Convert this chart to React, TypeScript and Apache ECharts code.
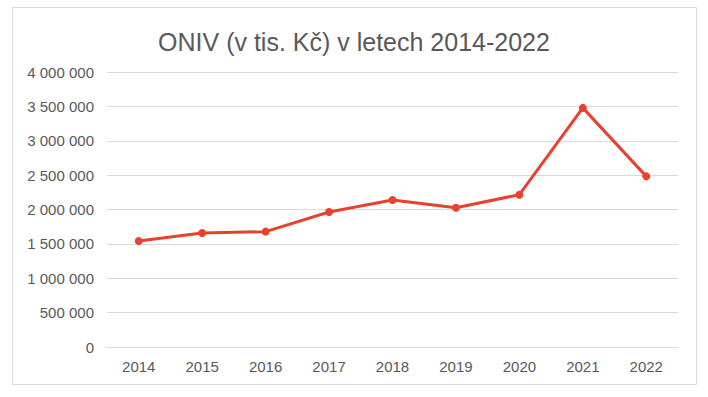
import React, { useEffect, useRef } from "react";
import * as echarts from "echarts";

const years = ["2014", "2015", "2016", "2017", "2018", "2019", "2020", "2021", "2022"];
const oniv = [1543000, 1659000, 1678000, 1964000, 2138000, 2026000, 2215000, 3478000, 2482000];
const titleText = "ONIV (v tis. Kč) v letech 2014-2022";

const fmt = (v: number) => String(Math.round(v)).replace(/\B(?=(\d{3})+(?!\d))/g, " ");

export default function App() {
  const ref = useRef<HTMLDivElement>(null);
  useEffect(() => {
    if (!ref.current) return;
    const chart = echarts.init(ref.current, undefined, { renderer: "svg" });
    const font = "'Liberation Sans', Arial, sans-serif";
    chart.setOption({
      animation: false,
      backgroundColor: "#ffffff",
      title: {
        text: titleText,
        left: "center",
        top: 24,
        textStyle: { fontFamily: font, fontSize: 25, fontWeight: "normal", color: "#595959" },
      },
      graphic: [
        {
          type: "rect",
          shape: { x: 12.5, y: 7.5, width: 684, height: 377 },
          style: { fill: "none", stroke: "#d9d9d9", lineWidth: 1 },
          silent: true,
        },
      ],
      grid: { left: 107, right: 30, top: 72, bottom: 50, containLabel: false },
      xAxis: {
        type: "category",
        data: years,
        boundaryGap: true,
        axisLine: { show: true, lineStyle: { color: "#d9d9d9" } },
        axisTick: { show: false },
        axisLabel: { fontFamily: font, fontSize: 15, color: "#595959", margin: 12 },
      },
      yAxis: {
        type: "value",
        min: 0,
        max: 4000000,
        interval: 500000,
        axisLine: { show: false },
        axisTick: { show: false },
        splitLine: { lineStyle: { color: "#d9d9d9", width: 1 } },
        axisLabel: { fontFamily: font, fontSize: 15, color: "#595959", margin: 13, formatter: fmt },
      },
      series: [
        {
          type: "line",
          data: oniv,
          symbol: "circle",
          symbolSize: 8,
          lineStyle: { color: "#E8412F", width: 3 },
          itemStyle: { color: "#E8412F" },
        },
      ],
    });
    return () => chart.dispose();
  }, []);
  return (
    <div
      ref={ref}
      style={{ position: "absolute", left: 0, top: 0, width: 708, height: 397 }}
    />
  );
}
